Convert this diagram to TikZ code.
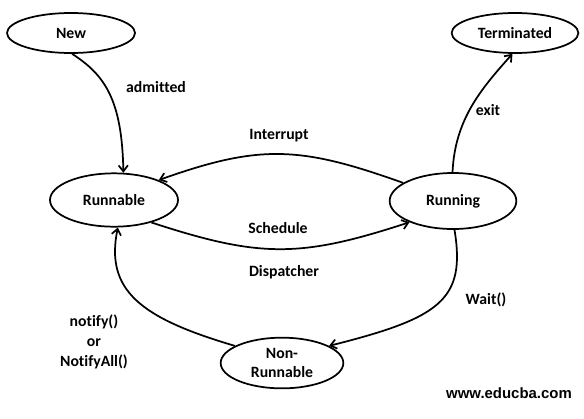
\documentclass[tikz,border=0pt]{standalone}
\usepackage{fontspec}
\setmainfont{Carlito}[Ligatures=NoCommon]
\newfontfamily\webfont{Liberation Sans}
\usetikzlibrary{shapes.geometric,arrows.meta}

\tikzset{
  state/.style={ellipse, draw, line width=1.3pt, inner sep=0pt, align=center,
    font=\fontsize{11.8}{14.3}\selectfont\bfseries},
  lbl/.style={inner sep=0.75pt, align=center, font=\fontsize{11.8}{15}\selectfont\bfseries},
  trans/.style={line width=1.3pt, -{Straight Barb[length=4.5pt,width=7pt]}}
}

\begin{document}
\begin{tikzpicture}[x=0.75pt,y=0.75pt,yscale=-1,xscale=1]
\useasboundingbox (0,0) rectangle (584,418);

%Shape: Ellipse [new]
\node [state, minimum width=96pt, minimum height=30pt] (new) at (71,33) {New};
%Shape: Ellipse [terminated]
\node [state, minimum width=95pt, minimum height=30pt] (term) at (515,33) {Terminated};
%Shape: Ellipse [runnable]
\node [state, minimum width=96pt, minimum height=40pt] (runnable) at (114,200) {Runnable};
%Shape: Ellipse [running]
\node [state, minimum width=95pt, minimum height=42pt] (running) at (453,201) {Running};
%Shape: Ellipse [non runnable]
\node [state, minimum width=92pt, minimum height=38pt] (nonrun) at (282,363) {Non-\\Runnable};

%Curve Lines
\draw [trans] (new.-87) .. controls (105,75) and (122,100) .. (runnable.71);
\draw [trans] (running.160) .. controls (300,146) and (260,144) .. (runnable.24);
\draw [trans] (runnable.-31) .. controls (260,258) and (300,258) .. (running.-154);
\draw [trans] (running.91) .. controls (455,120) and (480,90) .. (term.-97);
\draw [trans] (running.-87) .. controls (466,300) and (440,318) .. (nonrun.20);
\draw [trans] (nonrun.160) .. controls (140,318) and (105,290) .. (runnable.-82);

% Text Node
\node [lbl] (admitted) at (156,87) {admitted};
% Text Node
\node [lbl] (interrupt) at (279,136) {Interrupt};
% Text Node
\node [lbl] (schedule) at (278,228) {Schedule};
% Text Node
\node [lbl] (dispatcher) at (284,272) {Dispatcher};
% Text Node
\node [lbl] (exit) at (488,110) {exit};
% Text Node
\node [lbl] (wait) at (486,300) {Wait()};
% Text Node
\node [lbl] (notify) at (94,342) {notify()\\or\\NotifyAll()};
% Text Node
\node [inner sep=0.75pt, font=\webfont\fontsize{11.2}{13}\selectfont\bfseries] (site) at (509,393) {www.educba.com};

\end{tikzpicture}
\end{document}
